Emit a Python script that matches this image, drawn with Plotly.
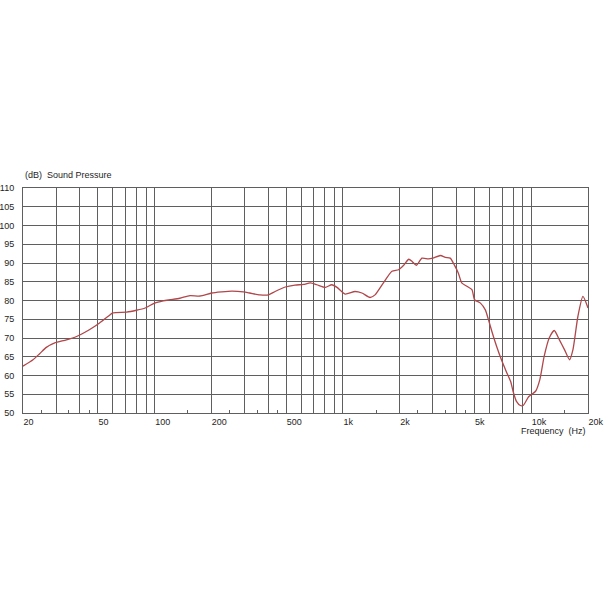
import plotly.graph_objects as go
import math

freq_hz = [20, 22.6, 24.5, 26.6, 29.5, 34, 38.5, 45, 51, 56.7, 60, 71, 80, 89, 100,
           111, 121, 136, 154, 174, 201, 227, 257, 296, 320, 362, 402, 436, 494, 556,
           618, 671, 727, 806, 872, 930, 1026, 1158, 1260, 1392, 1480, 1640, 1820, 1974,
           2100, 2236, 2330, 2452, 2628, 2840, 3000, 3294, 3496, 3710, 3900, 4100, 4270,
           4550, 4840, 5000, 5370, 5700, 5920, 6170, 6540, 6940, 7360, 7770, 8000, 8340,
           8750, 9050, 9700, 10540, 11100, 11700, 12450, 13240, 14100, 15000, 15960,
           16640, 17680, 18800, 20000]
spl_db = [62.5, 64.2, 65.8, 67.5, 68.7, 69.5, 70.4, 72.2, 74.0, 75.8, 76.7, 76.9, 77.4, 78.0, 79.3,
          79.9, 80.2, 80.6, 81.3, 81.2, 82.0, 82.3, 82.5, 82.3, 82.0, 81.5, 81.5, 82.4, 83.6, 84.1,
          84.3, 84.7, 84.2, 83.5, 84.2, 83.5, 81.7, 82.4, 82.0, 80.8, 81.5, 84.7, 87.8, 88.2,
          89.4, 91.0, 90.4, 89.4, 91.3, 91.1, 91.3, 92.0, 91.5, 91.3, 89.5, 87.3, 84.7,
          83.8, 82.9, 80.2, 79.3, 77.5, 74.9, 71.8, 67.8, 64.2, 61.1, 58.4, 55.8, 53.1,
          52.0, 52.0, 54.4, 55.8, 58.9, 65.1, 70.0, 72.0, 69.5, 66.9, 64.2,
          66.9, 75.8, 81.1, 78.0]

x_grid = [30, 40, 50, 60, 70, 80, 90, 100, 200, 300, 400, 500, 600, 700, 800, 900,
          1000, 2000, 3000, 4000, 5000, 6000, 7000, 8000, 9000, 10000]
x_tick_vals = [20, 50, 100, 200, 500, 1000, 2000, 5000, 10000, 20000]
x_tick_text = ["20", "50", "100", "200", "500", "1k", "2k", "5k", "10k", "20k"]
x_minor = [25, 35, 45, 150, 250, 350, 450, 1500, 2500, 3500, 4500, 15000]
y_ticks = list(range(50, 111, 5))

FONT = "Liberation Sans, Arial, sans-serif"
GRID = "#5f5f5f"
TXT = "#1e1e1e"

fig = go.Figure()
# invisible trace that activates the grid axis
fig.add_trace(go.Scatter(x=[20], y=[50], xaxis="x2", mode="markers",
                         marker=dict(opacity=0), showlegend=False, hoverinfo="skip"))
fig.add_trace(go.Scatter(
    x=freq_hz, y=spl_db, mode="lines",
    line=dict(color="#b0474a", width=1.3, shape="spline", smoothing=0.6),
    showlegend=False, hoverinfo="skip",
))

fig.update_layout(
    width=605, height=605,
    margin=dict(l=23, r=17, t=188, b=192, autoexpand=False),
    paper_bgcolor="white", plot_bgcolor="white",
    font=dict(family=FONT, size=9, color=TXT),
    xaxis=dict(
        type="log", range=[math.log10(20), math.log10(20000)],
        tickmode="array", tickvals=x_tick_vals, ticktext=x_tick_text,
        ticklabelposition="outside right", automargin=False,
        showgrid=False, zeroline=False, ticks="", ticklen=0,
        showline=True, linecolor=GRID, linewidth=1, mirror=True,
        tickfont=dict(family=FONT, size=9, color=TXT),
        minor=dict(tickvals=x_minor, ticks="inside", ticklen=3, tickcolor=GRID, showgrid=False),
    ),
    xaxis2=dict(
        type="log", range=[math.log10(20), math.log10(20000)],
        overlaying="x", tickmode="array", tickvals=x_grid, automargin=False,
        showticklabels=False, showgrid=True, gridcolor=GRID, gridwidth=1,
        zeroline=False, ticks="",
    ),
    yaxis=dict(
        range=[50, 110], tickmode="array", tickvals=y_ticks, automargin=False,
        showgrid=True, gridcolor=GRID, gridwidth=1, zeroline=False,
        ticks="", showline=True, linecolor=GRID, linewidth=1, mirror=True,
        tickfont=dict(family=FONT, size=9, color=TXT),
        ticklabelstandoff=6,
    ),
    annotations=[
        dict(text="(dB)\u00a0\u00a0Sound Pressure", xref="paper", yref="paper",
             x=0, y=1, xanchor="left", yanchor="bottom", yshift=6, showarrow=False,
             font=dict(family=FONT, size=9, color=TXT)),
        dict(text="Frequency\u00a0\u00a0(Hz)", xref="paper", yref="paper",
             x=1, y=0, xanchor="right", yanchor="top", yshift=-11, showarrow=False,
             font=dict(family=FONT, size=9, color=TXT)),
    ],
)
fig.write_html("out.html", config={"displayModeBar": False},
               post_script="document.body.style.margin='0';")
